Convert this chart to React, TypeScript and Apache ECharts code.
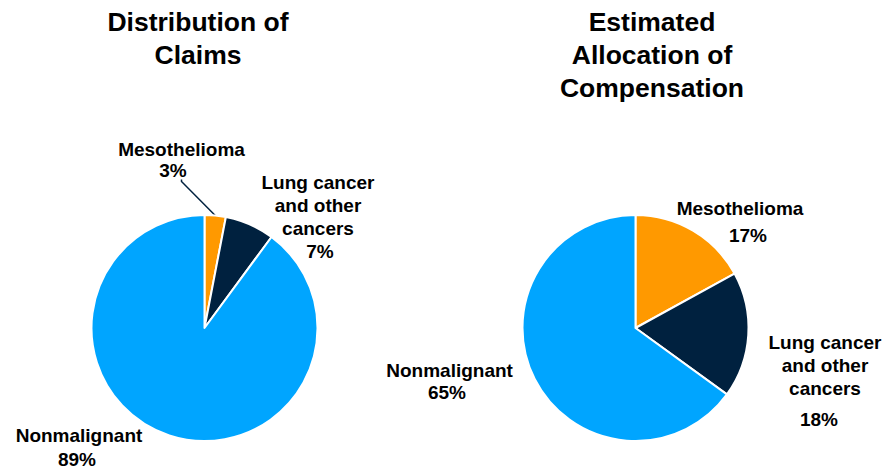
import React, { useEffect, useRef } from "react";
import * as echarts from "echarts";

// ---- data ----
const categories = ["Mesothelioma", "Lung cancer\nand other\ncancers", "Nonmalignant"];
const claimsShare = [3, 7, 89];
const compensationShare = [17, 18, 65];
const chartTitles = ["Distribution of\nClaims", "Estimated\nAllocation of\nCompensation"];

// ---- style / layout ----
const sliceColors = ["#FF9900", "#00213F", "#00A5FF"];
const FONT = "'Liberation Sans', Arial, sans-serif";
const pieCenters = [
  [204.5, 328],
  [635.5, 328],
];
const pieRadius = 113;
const titleCenters = [198, 652];
// label block center, height of value line, horizontal shift of value line
const labelLayouts = [
  [
    { x: 181.5, y: 158.5, vh: 19, shift: -8.5 },
    { x: 318, y: 216.7, vh: 23, shift: 2 },
    { x: 79, y: 448.2, vh: 25, shift: -2 },
  ],
  [
    { x: 740, y: 223.5, vh: 31, shift: 8 },
    { x: 825, y: 384.5, vh: 38.5, shift: -6 },
    { x: 449.6, y: 380.5, vh: 20.4, shift: -2.6 },
  ],
];
const leaderLineItems = [[0], []];

function buildSeries(values: number[], si: number) {
  const layouts = labelLayouts[si];
  const rich: Record<string, any> = {
    n: { fontSize: 19, fontWeight: "bold", fontFamily: FONT, color: "#000", lineHeight: 23 },
  };
  layouts.forEach((l, i) => {
    const s = l.shift;
    rich["v" + i] = {
      fontSize: 19,
      fontWeight: "bold",
      fontFamily: FONT,
      color: "#000",
      lineHeight: l.vh,
      padding: s >= 0 ? [0, 0, 0, 2 * s] : [0, -2 * s, 0, 0],
    };
  });
  return {
    type: "pie",
    center: pieCenters[si],
    radius: pieRadius,
    startAngle: 90,
    clockwise: true,
    avoidLabelOverlap: false,
    silent: true,
    emphasis: { disabled: true },
    itemStyle: { borderColor: "#FFFFFF", borderWidth: 2 },
    label: {
      show: true,
      position: "outside",
      fontFamily: FONT,
      fontSize: 19,
      fontWeight: "bold",
      color: "#000",
      align: "center",
      formatter: (p: any) => {
        const lines = String(p.name)
          .split("\n")
          .map((t: string) => "{n|" + t + "}");
        return lines.join("\n") + "\n{v" + p.dataIndex + "|" + p.value + "%}";
      },
      rich,
    },
    labelLine: { show: false },
    labelLayout: (p: any) => {
      const l = layouts[p.dataIndex];
      return { x: l.x, y: l.y, align: "center", verticalAlign: "middle" };
    },
    data: values.map((v, i) => ({
      name: categories[i],
      value: v,
      itemStyle: { color: sliceColors[i] },
      labelLine: leaderLineItems[si].includes(i)
        ? { show: true, length: 2, length2: 2, lineStyle: { color: "#00213F", width: 1.5 } }
        : { show: false },
    })),
  };
}

export default function App() {
  const ref = useRef<HTMLDivElement>(null);
  useEffect(() => {
    if (!ref.current) return;
    const chart = echarts.init(ref.current, null, { renderer: "svg" });
    chart.setOption({
      animation: false,
      backgroundColor: "#FFFFFF",
      title: chartTitles.map((t, i) => ({
        text: t,
        left: titleCenters[i],
        top: 5.5,
        padding: 0,
        textAlign: "center",
        textStyle: {
          fontFamily: FONT,
          fontSize: 26.5,
          fontWeight: "bold",
          color: "#000",
          lineHeight: 33,
        },
      })),
      series: [buildSeries(claimsShare, 0), buildSeries(compensationShare, 1)],
    });
    return () => chart.dispose();
  }, []);
  return (
    <div
      ref={ref}
      style={{ position: "fixed", left: 0, top: 0, width: 888, height: 474 }}
    />
  );
}
